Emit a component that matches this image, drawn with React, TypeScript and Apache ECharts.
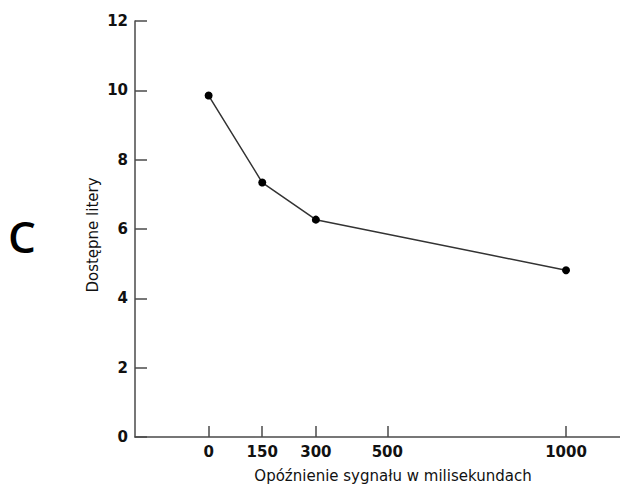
import React, { useEffect, useRef } from "react";
import * as echarts from "echarts";

const delaysMs = [0, 150, 300, 1000];
const availableLetters = [9.85, 7.34, 6.27, 4.81];
const xTickValues = [0, 150, 300, 500, 1000];
const yMin = 0;
const yMax = 12;
const yStep = 2;
const xTitle = "Opóźnienie sygnału w milisekundach";
const yTitle = "Dostępne litery";
const panelLetter = "C";

const AXIS_COLOR = "#4a4a4a";
const TEXT_COLOR = "#111";
const FONT = "DejaVu Sans, Verdana, sans-serif";

export default function App() {
  const ref = useRef<HTMLDivElement>(null);

  useEffect(() => {
    if (!ref.current) return;
    const chart = echarts.init(ref.current, null, { renderer: "svg" });
    chart.setOption({
      animation: false,
      backgroundColor: "#ffffff",
      grid: { left: 135, right: 0, top: 21, bottom: 48, containLabel: false },
      xAxis: {
        type: "value",
        min: -206,
        max: 1151,
        splitLine: { show: false },
        axisLine: { show: true, onZero: false, lineStyle: { color: AXIS_COLOR, width: 1.5 } },
        axisTick: {
          show: true,
          inside: true,
          length: 11,
          customValues: xTickValues,
          lineStyle: { color: AXIS_COLOR, width: 1.5 },
        },
        axisLabel: {
          customValues: xTickValues,
          formatter: (v: number) => String(v),
          margin: 7,
          color: TEXT_COLOR,
          fontFamily: FONT,
          fontWeight: "bold",
          fontSize: 15,
        },
      },
      yAxis: {
        type: "value",
        min: yMin,
        max: yMax,
        interval: yStep,
        splitLine: { show: false },
        axisLine: { show: true, onZero: false, lineStyle: { color: AXIS_COLOR, width: 1.5 } },
        axisTick: {
          show: true,
          inside: true,
          length: 12,
          lineStyle: { color: AXIS_COLOR, width: 1.5 },
        },
        axisLabel: {
          margin: 7,
          color: TEXT_COLOR,
          fontFamily: FONT,
          fontWeight: "bold",
          fontSize: 15,
        },
      },
      series: [
        {
          type: "line",
          data: delaysMs.map((d, i) => [d, availableLetters[i]]),
          symbol: "circle",
          symbolSize: 8,
          itemStyle: { color: "#000" },
          lineStyle: { color: "#333", width: 1.5 },
          z: 5,
        },
      ],
      graphic: [
        {
          type: "text",
          x: 393,
          y: 476,
          style: {
            text: xTitle,
            font: `15px ${FONT}`,
            fill: TEXT_COLOR,
            align: "center",
            verticalAlign: "middle",
          },
        },
        {
          type: "text",
          x: 93,
          y: 235,
          rotation: Math.PI / 2,
          style: {
            text: yTitle,
            font: `15px ${FONT}`,
            fill: TEXT_COLOR,
            align: "center",
            verticalAlign: "middle",
          },
        },
        {
          type: "text",
          x: 22,
          y: 236,
          style: {
            text: panelLetter,
            font: `600 44px "Open Sans", sans-serif`,
            fill: "#000",
            align: "center",
            verticalAlign: "middle",
          },
        },
      ],
    });
    return () => chart.dispose();
  }, []);

  return (
    <div
      ref={ref}
      style={{ position: "fixed", left: 0, top: 0, width: 620, height: 485 }}
    />
  );
}
